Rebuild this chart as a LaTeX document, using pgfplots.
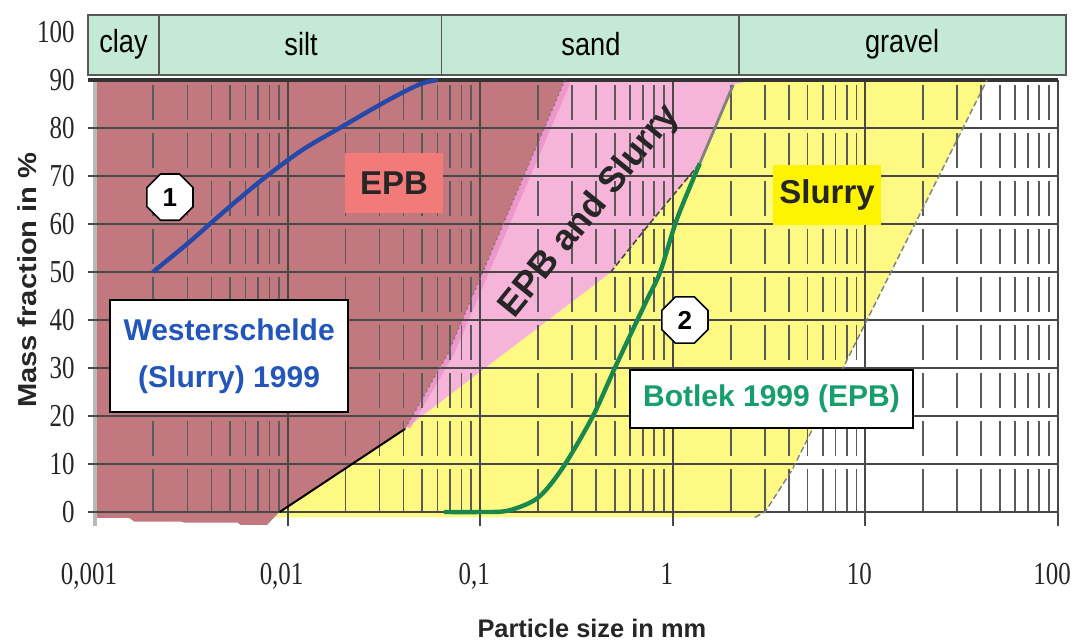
\documentclass[border=0pt]{standalone}
\usepackage{pgfplots}
\pgfplotsset{compat=1.18}
\usepackage{fontspec}
\setmainfont{Liberation Sans}
\newfontfamily\numfont[FakeStretch=0.78]{Liberation Serif}
\newfontfamily\bandfont[FakeStretch=0.85]{Liberation Sans}
\newfontfamily\wideboldfont[FakeStretch=1.12]{Liberation Sans}
\usetikzlibrary{shapes.geometric}

\definecolor{epbrose}{RGB}{193,120,126}
\definecolor{epbtag}{RGB}{242,122,120}
\definecolor{mixpink}{RGB}{246,180,216}
\definecolor{mixedge}{RGB}{236,140,200}
\definecolor{slurryyel}{RGB}{253,249,130}
\definecolor{slurrytag}{RGB}{255,244,0}
\definecolor{bandgreen}{RGB}{196,234,214}
\definecolor{gridgray}{RGB}{72,72,72}
\definecolor{curveblue}{RGB}{38,72,168}
\definecolor{textblue}{RGB}{34,86,186}
\definecolor{curvegreen}{RGB}{24,136,78}
\definecolor{textgreen}{RGB}{22,158,108}

\begin{document}
\begin{tikzpicture}
\useasboundingbox (-47.5pt,-57.8pt) rectangle (492pt,263.2pt);
\begin{axis}[
  at={(0,0)}, anchor=south west,
  scale only axis, width=481.5pt, height=256.8pt,
  xmode=log, xmin=1e-3, xmax=100, ymin=-3, ymax=104,
  axis line style={draw=none},
  clip=false,
  major tick length=0pt, minor tick length=0pt, xminorticks=false,
  xtick={1e-3,1e-2,1e-1,1,10,100},
  xticklabels={{0,001},{0,01},{0,1},1,10,100},
  ytick={0,10,...,100},
  yticklabels={0,10,20,30,40,50,60,70,80,90,100},
  tick label style={font=\numfont\fontsize{16}{16}\selectfont, text=black!85, inner sep=0pt},
  xticklabel style={anchor=base, yshift=-29pt, xshift=-3pt},
  yticklabel style={anchor=east, xshift=-10pt},
]

% soil zones: slurry, EPB and slurry, EPB
\addplot[fill=slurryyel, draw=none] coordinates {
  (0.0085,-1.1) (0.0407,17.3) (0.472,49.8) (0.762,60.2) (1.09,67.7)
  (1.38,72.6) (2.06,89) (2.58,90) (42.8,90) (11.5,44.2) (4.16,8.75)
  (3.01,0) (2.67,-1.1)};
\addplot[fill=mixpink, draw=none] coordinates {
  (0.26,90) (2.58,90) (2.06,89) (1.38,72.6) (1.09,67.7) (0.762,60.2)
  (0.472,49.8) (0.0407,17.3) (0.0395,17.3) (0.066,33)};
% deeper pink rim along the EPB side
\addplot[mixedge, line width=4pt, opacity=0.7] coordinates {
  (0.0415,17.8) (0.07,33.2) (0.28,89.6)};
\addplot[fill=epbrose, draw=none] coordinates {
  (0.001,90) (0.275,90) (0.068,33) (0.0407,17.3) (0.0091,0) (0.0078,-2.7)
  (0.0057,-2.7) (0.0055,-2.2) (0.0029,-2.2) (0.0028,-2.0) (0.0016,-2.0)
  (0.0015,-1.2) (0.001,-1.2)};

% grid: broken minor lines
\foreach \d in {0.001,0.01,0.1,1,10} {
  \foreach \m in {2,...,9} {
    \pgfmathsetmacro\xx{\m*\d}
    \foreach \k in {0,...,8} {
      \pgfmathsetmacro\ya{\k==0 ? 0 : 10*\k+1.6}
      \pgfmathsetmacro\yb{10*\k+9}
      \edef\tmp{\noexpand\draw[gridgray!90, line width=0.9pt]
        (axis cs:\xx,\ya) -- (axis cs:\xx,\yb);}
      \tmp
    }
  }
}
% grid: decades and horizontal lines
\draw[gray!55, line width=1.6pt] (axis cs:0.001,-3) -- (axis cs:0.001,90);
\foreach \d in {0.01,0.1,1,10,100} {
  \edef\tmp{\noexpand\draw[gridgray, line width=1pt]
    (axis cs:\d,-3) -- (axis cs:\d,90);}
  \tmp
}
\foreach \v in {0,10,...,80} {
  \edef\tmp{\noexpand\draw[gridgray, line width=1pt]
    (axis cs:0.00092,\v) -- (axis cs:100,\v);}
  \tmp
}
\draw[black!80, line width=2pt] (axis cs:0.00092,90) -- (axis cs:100,90);

% zone boundaries
\draw[black, line width=1pt] (axis cs:0.0091,0) -- (axis cs:0.0407,17.3);
\draw[black!55, line width=0.7pt, dotted] (axis cs:0.0407,17.3) -- (axis cs:0.068,33) -- (axis cs:0.275,90);
\draw[gray, line width=1.4pt] (axis cs:1.38,72.6) -- (axis cs:2.06,89);
\draw[gridgray, line width=0.8pt, dash pattern=on 3pt off 1.5pt] (axis cs:1.38,72.6) -- (axis cs:1.09,67.7) -- (axis cs:0.762,60.2) -- (axis cs:0.472,49.8);
\draw[gray, line width=0.7pt, dash pattern=on 3pt off 1.5pt] (axis cs:2.67,-1.1) -- (axis cs:3.01,0) -- (axis cs:4.16,8.75) -- (axis cs:11.5,44.2) -- (axis cs:42.8,90);

% grading curves
\addplot[curveblue, line width=2.2pt, smooth] coordinates {
  (0.002,50) (0.003,55.8) (0.004,60.2) (0.0055,65) (0.0078,70) (0.012,75.5)
  (0.0194,80.4) (0.03,84.8) (0.04,87.5) (0.05,89.3) (0.06,90)};
\addplot[curvegreen, line width=2.2pt, smooth, tension=0.5] coordinates {
  (0.065,0) (0.1,0) (0.14,0.3) (0.2,3) (0.27,9.4) (0.385,20) (0.5,30)
  (0.73,44) (0.86,50) (1.05,61) (1.38,72.6)};

% zone tags
\node[fill=epbtag, minimum width=49pt, minimum height=30pt, inner sep=0pt,
  font=\bfseries\fontsize{16.5}{16.5}\selectfont, text=black!85] at (axis cs:0.0357,68.5) {EPB};
\node[fill=slurrytag, minimum width=54pt, minimum height=30pt, inner sep=0pt,
  font=\bfseries\fontsize{16.5}{16.5}\selectfont, text=black!85] at (axis cs:6.32,66) {Slurry};
\node[rotate=51, font=\bfseries\fontsize{18}{18}\selectfont, text=black!85] at (axis cs:0.3715,62.6) {EPB and Slurry};

% project labels
\node[draw=black, fill=white, line width=0.8pt, minimum width=119pt, minimum height=56pt,
  inner sep=0pt, align=center, text=textblue, font=\bfseries\fontsize{15}{23.5}\selectfont]
  at (axis cs:0.00497,32.5) {Westerschelde\\(Slurry) 1999};
\node[draw=black, fill=white, line width=0.8pt, minimum width=141.5pt, minimum height=29pt,
  inner sep=0pt, text=textgreen, font=\bfseries\fontsize{15}{15}\selectfont]
  at (axis cs:3.254,23.5) {Botlek 1999 (EPB)};
\node[regular polygon, regular polygon sides=8, draw=black, fill=white, line width=0.8pt,
  minimum size=25pt, inner sep=0pt, font=\bfseries\fontsize{13}{13}\selectfont]
  at (axis cs:0.00245,65.6) {1};
\node[regular polygon, regular polygon sides=8, draw=black, fill=white, line width=0.8pt,
  minimum size=25pt, inner sep=0pt, font=\bfseries\fontsize{13}{13}\selectfont]
  at (axis cs:1.156,40) {2};

% soil classes band
\draw[fill=bandgreen, draw=gray!70!black, line width=0.8pt] (axis cs:0.00092,91) rectangle (axis cs:110,103.6);
\draw[gray!70!black, line width=0.8pt] (axis cs:0.00215,91) -- (axis cs:0.00215,103.6);
\draw[gray!70!black, line width=0.8pt] (axis cs:0.063,91) -- (axis cs:0.063,103.6);
\draw[gray!70!black, line width=0.8pt] (axis cs:2.2,91) -- (axis cs:2.2,103.6);
\node[font=\bandfont\fontsize{16}{16}\selectfont, text=black] at (axis cs:0.001406,97.5) {clay};
\node[font=\bandfont\fontsize{16}{16}\selectfont, text=black] at (axis cs:0.01175,97.5) {silt};
\node[font=\bandfont\fontsize{16}{16}\selectfont, text=black] at (axis cs:0.376,97.5) {sand};
\node[font=\bandfont\fontsize{16}{16}\selectfont, text=black] at (axis cs:15.5,97.5) {gravel};

% axis titles
\node[rotate=90, font=\wideboldfont\bfseries\fontsize{13}{13}\selectfont, text=black!85]
  at ([xshift=-34pt]axis cs:0.001,48.3) {Mass fraction in \%};
\node[font=\bfseries\fontsize{12.7}{12.7}\selectfont, text=black!85]
  at (axis cs:0.38,-24.2) {Particle size in mm};
\end{axis}
\end{tikzpicture}
\end{document}
